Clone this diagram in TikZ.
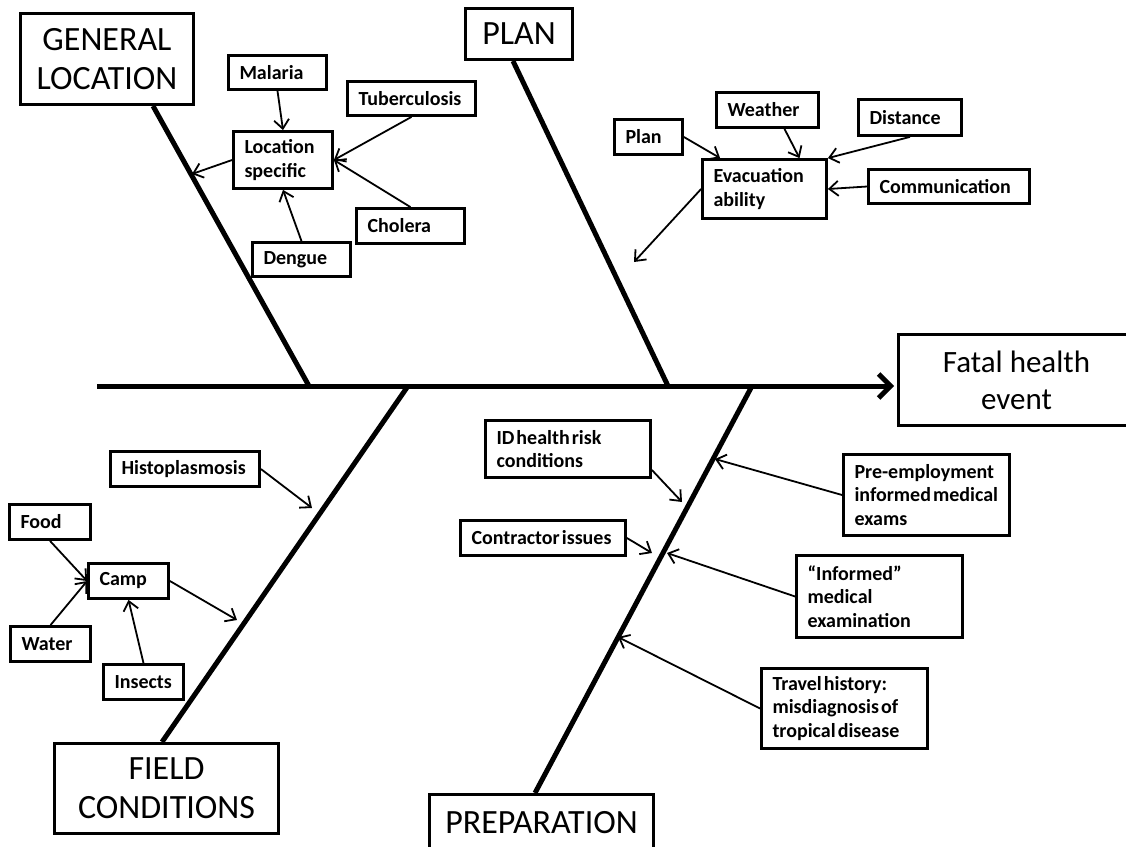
\documentclass[tikz,border=0pt]{standalone}
\usepackage{fontspec}
\setmainfont{Carlito}
\newfontfamily\smallbold{Carlito}[WordSpace=0.45]
\usetikzlibrary{arrows.meta,calc}
\begin{document}
\begin{tikzpicture}[x=1pt,y=-1pt,
  sbox/.style={draw, line width=2.8pt, inner xsep=11pt, inner ysep=0pt, align=flush left, font=\smallbold\fontsize{20}{23.3}\bfseries\selectfont},
  bbox/.style={draw, line width=2.8pt, inner sep=0pt, align=center, font=\fontsize{34}{39}\selectfont},
  bone/.style={line width=5pt},
  arr/.style={line width=1.8pt, -{Straight Barb[length=9pt,width=15pt]}},
]
\useasboundingbox (0,0) rectangle (1126,846);
\clip (0,0) rectangle (1126,846);

% main category boxes
\node[bbox, minimum width=173pt, minimum height=91pt] (gl) at (107,59) {GENERAL\\LOCATION};
\node[bbox, minimum width=107pt, minimum height=51pt] (plan) at (519,34) {PLAN};
\node[bbox, minimum width=224pt, minimum height=90pt] (fc) at (166.5,788.5) {FIELD\\CONDITIONS};
\node[bbox, minimum width=224pt, minimum height=57pt] (prep) at (541.5,823) {PREPARATION};
\node[bbox, font=\fontsize{31}{37}\selectfont, minimum width=236pt, minimum height=91pt] (fatal) at (1016.5,380) {Fatal health\\event};

% small boxes (text width = box width - 22)
\node[sbox, text width=76pt, minimum height=34pt] (malaria) at (277.5,72.5) {Malaria};
\node[sbox, text width=106pt, minimum height=34pt] (tb) at (411.5,98.5) {Tuberculosis};
\node[sbox, text width=77pt, minimum height=57pt] (locspec) at (283,160) {Location\\specific};
\node[sbox, text width=86pt, minimum height=35pt] (cholera) at (410.5,226) {Cholera};
\node[sbox, text width=76pt, minimum height=34pt] (dengue) at (301.5,259.5) {Dengue};

\node[sbox, text width=46pt, minimum height=35pt] (plan2) at (648.5,137) {Plan};
\node[sbox, text width=80pt, minimum height=35pt] (weather) at (767.5,110) {Weather};
\node[sbox, text width=102pt, minimum height=59pt] (evac) at (764.5,189) {Evacuation\\ability};
\node[sbox, text width=81pt, minimum height=36pt] (distance) at (910,117.5) {Distance};
\node[sbox, text width=139pt, minimum height=34pt] (comm) at (949,186.5) {Communication};

\node[sbox, text width=127pt, minimum height=35pt] (histo) at (185,469) {Histoplasmosis};
\node[sbox, text width=59pt, minimum height=35pt] (food) at (50,522) {Food};
\node[sbox, text width=58pt, minimum height=35pt] (camp) at (128.5,581) {Camp};
\node[sbox, text width=58pt, minimum height=35pt] (water) at (50.5,644) {Water};
\node[sbox, text width=58pt, minimum height=35pt] (insects) at (143.5,682) {Insects};

\node[sbox, text width=143pt, minimum height=57pt] (id) at (568,449) {\mbox{ID health risk}\\conditions};
\node[sbox, text width=143pt, minimum height=35pt] (contractor) at (543,538) {\mbox{Contractor issues}};
\node[sbox, text width=144pt, minimum height=81pt] (pre) at (926.5,495) {\mbox{Pre-employment}\\\mbox{informed medical}\\exams};
\node[sbox, text width=144pt, minimum height=82pt] (inf) at (879.5,596.5) {“Informed”\\medical\\examination};
\node[sbox, text width=144pt, minimum height=80pt] (trav) at (844.5,708.5) {\mbox{Travel history:}\\\mbox{misdiagnosis of}\\\mbox{tropical disease}};

% spine and bones
\coordinate (spL) at (97,386);
\coordinate (g1) at (153,106); \coordinate (g2) at (309,386);
\coordinate (p1) at (513,61);  \coordinate (p2) at (668,386);
\coordinate (f1) at (408,386); \coordinate (f2) at (162,742);
\coordinate (r1) at (752,386); \coordinate (r2) at (535,793);

\draw[line width=5pt, -{Straight Barb[length=12pt,width=24pt]}, shorten >=3pt] (spL) -- (spL -| fatal.west);
\draw[bone] (g1) -- (g2);
\draw[bone] (p1) -- (p2);
\draw[bone] (f1) -- (f2);
\draw[bone] (r1) -- (r2);

% arrow targets on bones
\coordinate (tgl) at (192,174);
\coordinate (tevac) at (634,262);
\coordinate (thisto) at (312,508);
\coordinate (tcamp) at (237,620);
\coordinate (tid) at (682,502);
\coordinate (tcon) at (652,553);
\coordinate (tpre) at (715,459);
\coordinate (tinf) at (667,553);
\coordinate (ttrav) at (618,637);

% arrows
\draw[arr] (malaria.south) -- (locspec.north);
\draw[arr] (tb.south) -- (locspec.east);
\draw[arr] (cholera.north) -- (locspec.east);
\draw[arr] (dengue.north) -- (locspec.south);
\draw[arr] (locspec.west) -- (tgl);

\draw[arr] (plan2.east) -- ($(evac.north west)+(19,0)$);
\draw[arr] ($(weather.south)+(17,0)$) -- ($(evac.north)+(35,0)$);
\draw[arr] (distance.south) -- (evac.north east);
\draw[arr] (comm.west) -- (evac.east);
\draw[arr] (evac.west) -- (tevac);

\draw[arr] (histo.east) -- (thisto);
\draw[arr] (food.south) -- (camp.west);
\draw[arr] (water.north) -- (camp.west);
\draw[arr] (insects.north) -- (camp.south);
\draw[arr] (camp.east) -- (tcamp);

\draw[arr] ($(id.east)+(0,21)$) -- (tid);
\draw[arr] (contractor.east) -- (tcon);
\draw[arr] (pre.west) -- (tpre);
\draw[arr] (inf.west) -- (tinf);
\draw[arr] (trav.west) -- (ttrav);
\end{tikzpicture}
\end{document}
